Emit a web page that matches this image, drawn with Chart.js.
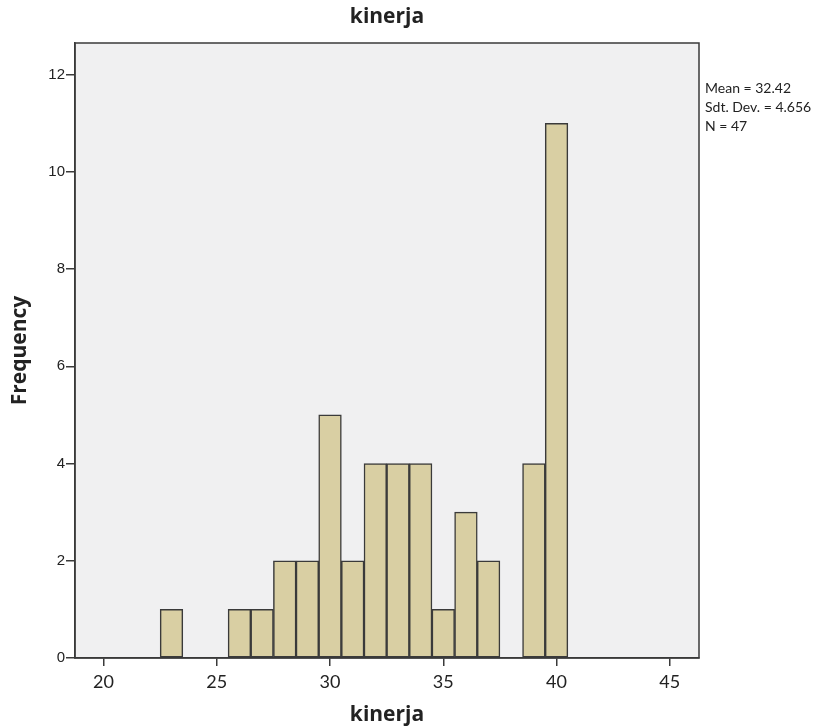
<!DOCTYPE html>
<html>
<head>
<meta charset="utf-8">
<script src="https://cdn.jsdelivr.net/npm/chart.js@4/dist/chart.umd.min.js"></script>
<style>
  html,body{margin:0;padding:0;background:#ffffff;}
  #wrap{width:835px;height:728px;position:relative;}
</style>
</head>
<body>
<div id="wrap"><canvas id="c" width="835" height="728"></canvas></div>
<script>
const chartTitle = 'kinerja';
const xTitle = 'kinerja';
const yTitle = 'Frequency';
const bins = [23, 26, 27, 28, 29, 30, 31, 32, 33, 34, 35, 36, 37, 39, 40];
const counts = [1, 1, 1, 2, 2, 5, 2, 4, 4, 4, 1, 3, 2, 4, 11];
const xTicks = [20, 25, 30, 35, 40, 45];
const yTicks = [0, 2, 4, 6, 8, 10, 12];
const statsLines = ['Mean = 32.42', 'Sdt. Dev. = 4.656', 'N = 47'];

const axisColor = '#3a3a3a';
const textColor = '#222222';
const titleFont = '"Open Sans", "Liberation Sans", Arial, sans-serif';

const framePlugin = {
  id: 'frame',
  beforeDraw(chart) {
    const a = chart.chartArea, ctx = chart.ctx;
    ctx.save();
    ctx.fillStyle = '#f0f0f1';
    ctx.fillRect(a.left, a.top, a.right - a.left, a.bottom - a.top);
    ctx.restore();
  },
  afterDraw(chart) {
    const a = chart.chartArea, ctx = chart.ctx;
    ctx.save();
    ctx.strokeStyle = axisColor;
    ctx.lineWidth = 1.5;
    ctx.strokeRect(a.left, a.top, a.right - a.left, a.bottom - a.top);
    ctx.fillStyle = textColor;
    ctx.font = 'bold 21px ' + titleFont;
    ctx.textAlign = 'center';
    ctx.textBaseline = 'middle';
    ctx.fillText(chartTitle, (a.left + a.right) / 2, 17);
    ctx.font = '14px Lato, "Open Sans", sans-serif';
    ctx.textAlign = 'left';
    statsLines.forEach((t, i) => ctx.fillText(t, a.right + 6, 88 + i * 19));
    ctx.restore();
  }
};

new Chart(document.getElementById('c'), {
  type: 'bar',
  data: {
    datasets: [{
      data: bins.map((b, i) => ({x: b, y: counts[i]})),
      backgroundColor: '#d9cfa3',
      borderColor: axisColor,
      borderWidth: 1.5,
      borderSkipped: false,
      barPercentage: 1,
      categoryPercentage: 1
    }]
  },
  options: {
    responsive: false,
    animation: false,
    layout: {padding: {top: 43, right: 136, bottom: 0, left: 0}},
    plugins: {legend: {display: false}, tooltip: {enabled: false}, title: {display: false}},
    scales: {
      x: {
        type: 'linear',
        offset: false,
        min: 18.74,
        max: 46.29,
        afterBuildTicks: s => { s.ticks = xTicks.map(v => ({value: v})); },
        afterFit: s => { s.height = 70; },
        grid: {offset: false, drawOnChartArea: false, drawTicks: true, tickLength: 8, color: axisColor, lineWidth: 1.5},
        border: {display: true, color: axisColor, width: 1.5},
        ticks: {color: textColor, font: {family: 'Lato, "Open Sans", sans-serif', size: 18}, padding: 5, maxRotation: 0},
        title: {display: true, text: xTitle, color: textColor, font: {family: titleFont, size: 21, weight: 'bold'}, padding: {top: 0, bottom: 0}}
      },
      y: {
        min: 0,
        max: 12.65,
        afterBuildTicks: s => { s.ticks = yTicks.map(v => ({value: v})); },
        afterFit: s => { s.width = 75; },
        grid: {drawOnChartArea: false, drawTicks: true, tickLength: 9, color: axisColor, lineWidth: 1.5},
        border: {display: true, color: axisColor, width: 1.5},
        ticks: {color: textColor, font: {family: '"Liberation Sans", Arial, sans-serif', size: 15}, padding: 1},
        title: {display: true, text: yTitle, color: textColor, font: {family: titleFont, size: 21, weight: 'bold'}, padding: {top: 7, bottom: 4}}
      }
    }
  },
  plugins: [framePlugin]
});
</script>
</body>
</html>
